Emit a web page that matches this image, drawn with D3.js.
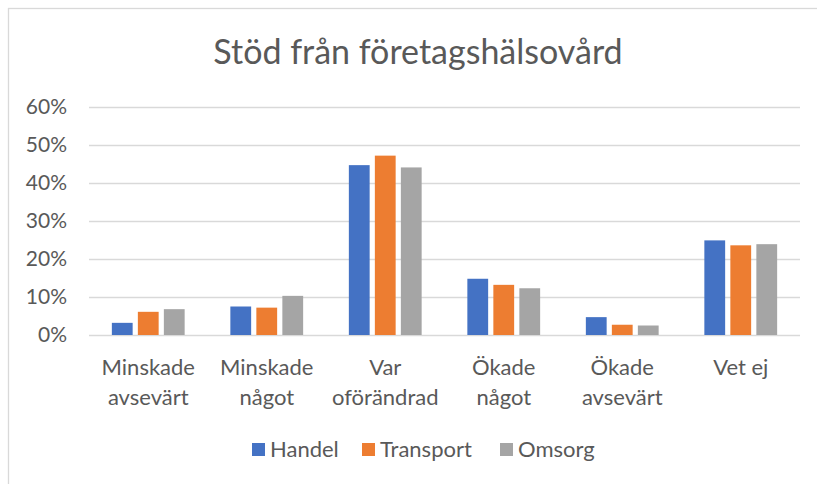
<!DOCTYPE html>
<meta charset="utf-8">
<script src="https://d3js.org/d3.v7.min.js"></script>
<style>
  body { margin: 0; background: #fff; }
  text { font-family: Lato, "Liberation Sans", sans-serif; fill: #595959; }
</style>
<div id="chart"></div>
<script>
  // data
  var categories = [["Minskade", "avsevärt"], ["Minskade", "något"], ["Var", "oförändrad"],
                    ["Ökade", "något"], ["Ökade", "avsevärt"], ["Vet ej"]];
  var series = ["Handel", "Transport", "Omsorg"];
  var colors = ["#4472C4", "#ED7D31", "#A5A5A5"];
  var handel    = [0.032, 0.075, 0.447, 0.148, 0.047, 0.249];
  var transport = [0.061, 0.072, 0.472, 0.132, 0.027, 0.236];
  var omsorg    = [0.068, 0.103, 0.441, 0.123, 0.025, 0.239];
  var yTicks = [0, 0.1, 0.2, 0.3, 0.4, 0.5, 0.6];
  var title = "Stöd från företagshälsovård";

  var values = [handel, transport, omsorg];
  var W = 817, H = 484;

  var svg = d3.select("#chart").append("svg")
      .attr("width", W)
      .attr("height", H);

  // chart border (right and bottom edges run off the picture)
  svg.append("rect")
      .attr("x", 8.5).attr("y", 8.5)
      .attr("width", 900).attr("height", 600)
      .attr("fill", "#fff")
      .attr("stroke", "#d9d9d9")
      .attr("stroke-width", 1.3);

  svg.append("text")
      .attr("x", 418).attr("y", 64)
      .attr("text-anchor", "middle")
      .style("font-size", "34px")
      .text(title);

  var x0 = d3.scaleBand()
      .domain(d3.range(categories.length))
      .range([89, 800]);

  var x1 = d3.scaleBand()
      .domain(series)
      .range([-39, 39])
      .paddingInner(0.2)
      .paddingOuter(0.1);

  var y = d3.scaleLinear()
      .domain([0, 0.6])
      .range([335, 107]);

  // gridlines + tick labels
  var yAxis = d3.axisLeft(y)
      .tickValues(yTicks)
      .tickFormat(d3.format(".0%"))
      .tickSize(-(800 - 89))
      .tickPadding(22);

  var gy = svg.append("g")
      .attr("transform", "translate(89,0)")
      .call(yAxis);
  gy.select(".domain").remove();
  gy.selectAll(".tick line").attr("stroke", "#d9d9d9").attr("stroke-width", 1.3);
  gy.selectAll(".tick text")
      .attr("fill", "#595959")
      .style("font-family", "Lato, sans-serif")
      .style("font-size", "21px");

  // bars
  var groups = svg.append("g").selectAll("g")
      .data(categories)
      .join("g")
      .attr("transform", function(d, i) { return "translate(" + (x0(i) + x0.bandwidth() / 2) + ",0)"; });

  groups.selectAll("rect")
      .data(function(d, i) { return series.map(function(s, j) { return {s: s, j: j, v: values[j][i]}; }); })
      .join("rect")
      .attr("x", function(d) { return x1(d.s); })
      .attr("width", x1.bandwidth())
      .attr("y", function(d) { return y(d.v); })
      .attr("height", function(d) { return y(0) - y(d.v); })
      .attr("fill", function(d) { return colors[d.j]; });

  // category labels (two lines)
  groups.append("text")
      .attr("text-anchor", "middle")
      .style("font-size", "22px")
      .selectAll("tspan")
      .data(function(d) { return d; })
      .join("tspan")
      .attr("x", 0)
      .attr("y", function(d, i) { return 375 + i * 30; })
      .text(function(d) { return d; });

  // legend
  var legendX = [252, 362, 500];
  var legend = svg.append("g").selectAll("g")
      .data(series)
      .join("g")
      .attr("transform", function(d, i) { return "translate(" + legendX[i] + ",443)"; });

  legend.append("rect")
      .attr("width", 13).attr("height", 13)
      .attr("fill", function(d, i) { return colors[i]; });

  legend.append("text")
      .attr("x", 18).attr("y", 14)
      .style("font-size", "22px")
      .text(function(d) { return d; });
</script>
